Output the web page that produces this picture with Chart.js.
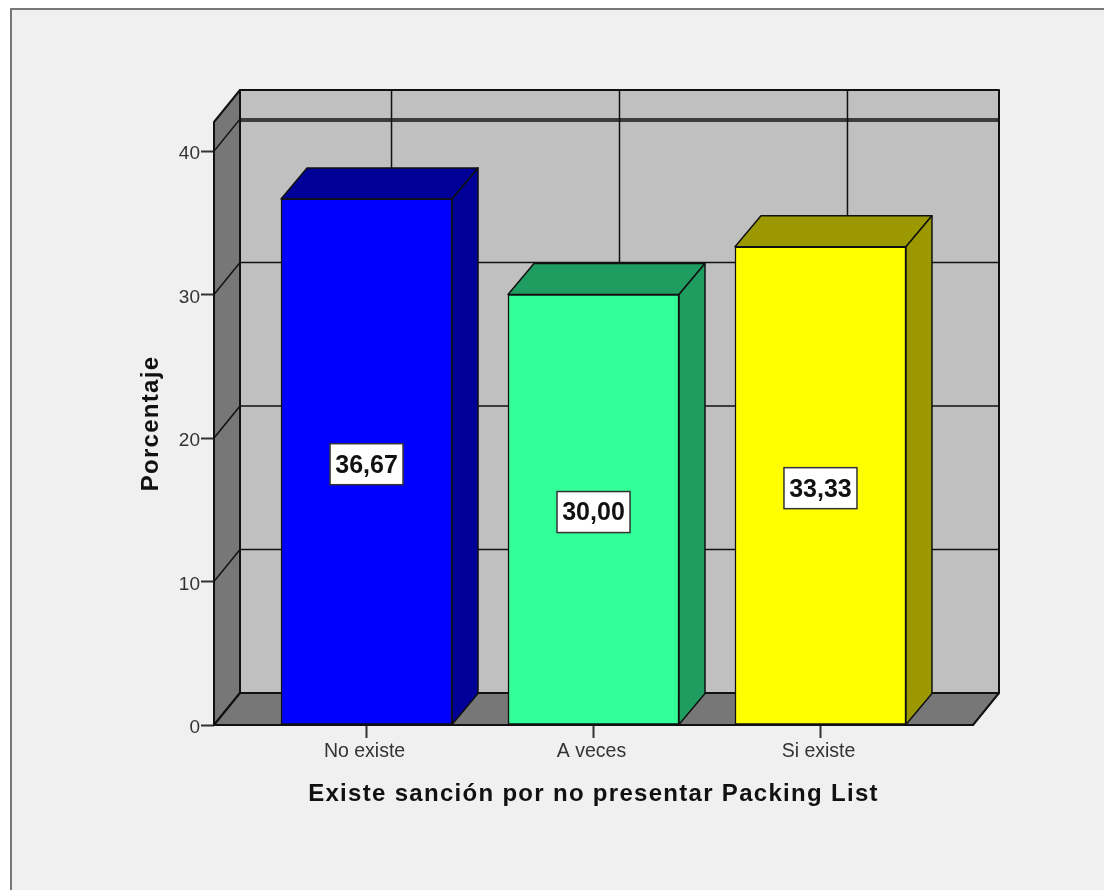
<!DOCTYPE html>
<html>
<head>
<meta charset="utf-8">
<title>Existe sanción por no presentar Packing List</title>
<script src="https://cdn.jsdelivr.net/npm/chart.js@4"></script>
<style>
  html, body { margin: 0; padding: 0; background: #fff; overflow: hidden; }
  #frame { position: absolute; left: 10px; top: 8px; width: 1094px; height: 882px; box-sizing: border-box;
           border-left: 2px solid #777; border-top: 2px solid #777; background: #f0f0f0; }
  #chart { position: absolute; left: 0; top: 0; }
</style>
</head>
<body>
<div id="frame"></div>
<canvas id="chart" width="1104" height="890"></canvas>
<script>
// Data
const categories = ['No existe', 'A veces', 'Si existe'];
const percentages = [36.67, 30.00, 33.33];
const frontColors = ['#0000ff', '#33ff99', '#ffff00'];
const sideColors = ['#000099', '#1f9c60', '#9c9900'];
const xAxisTitle = 'Existe sanción por no presentar Packing List';
const yAxisTitle = 'Porcentaje';

// Depth of the fake 3D box, in pixels
const DEPTH_X = 26;
const DEPTH_Y = 32;
const BAR_DEPTH_Y = 31;
const LINE_COLOR = '#111';
const FONT = '"Liberation Sans", Arial, sans-serif';

function poly(ctx, pts, fill) {
  ctx.beginPath();
  pts.forEach((p, i) => i ? ctx.lineTo(p[0], p[1]) : ctx.moveTo(p[0], p[1]));
  ctx.closePath();
  if (fill) {
    ctx.fillStyle = fill;
    ctx.fill();
  }
  ctx.stroke();
}

function line(ctx, x1, y1, x2, y2) {
  ctx.beginPath();
  ctx.moveTo(x1, y1);
  ctx.lineTo(x2, y2);
  ctx.stroke();
}

// Axis titles in the reference are spaced out a little
function spaceTitle(scale, ctx) {
  const drawTitle = scale.drawTitle;
  scale.drawTitle = function () {
    ctx.letterSpacing = '1.3px';
    drawTitle.call(scale);
    ctx.letterSpacing = '0px';
  };
}

// Walls, floor, grid lines and the side and top faces of the bars
const box3d = {
  id: 'box3d',
  beforeDraw(chart) {
    spaceTitle(chart.scales.x, chart.ctx);
    spaceTitle(chart.scales.y, chart.ctx);
  },
  beforeDatasetsDraw(chart) {
    const { ctx, chartArea: a, scales } = chart;
    const dx = DEPTH_X, dy = DEPTH_Y;
    ctx.save();
    ctx.strokeStyle = LINE_COLOR;
    ctx.lineWidth = 2;
    ctx.lineJoin = 'round';

    poly(ctx, [[a.left + dx, a.top - dy], [a.right + dx, a.top - dy], [a.right + dx, a.bottom - dy], [a.left + dx, a.bottom - dy]], '#c0c0c0');
    poly(ctx, [[a.left, a.top], [a.left + dx, a.top - dy], [a.left + dx, a.bottom - dy], [a.left, a.bottom]], '#777777');
    poly(ctx, [[a.left, a.bottom], [a.left + dx, a.bottom - dy], [a.right + dx, a.bottom - dy], [a.right, a.bottom]], '#777777');

    // horizontal grid runs along the left wall and the back wall
    ctx.lineWidth = 1.5;
    scales.y.ticks.forEach(t => {
      if (t.value === 0) return;
      const y = scales.y.getPixelForValue(t.value);
      line(ctx, a.left, y, a.left + dx, y - dy);
      line(ctx, a.left + dx, y - dy, a.right + dx, y - dy);
    });
    line(ctx, a.left + dx, a.top - dy + 31, a.right + dx, a.top - dy + 31);
    // back wall lines sit a pixel further apart than the bars
    scales.x.ticks.forEach((t, i) => {
      const x = scales.x.getPixelForValue(t.value) + dx - 1 + i;
      line(ctx, x, a.top - dy, x, a.bottom - dy);
    });

    // bar depth faces
    chart.getDatasetMeta(0).data.forEach((bar, i) => {
      const l = bar.x - bar.width / 2, r = bar.x + bar.width / 2;
      const bdy = BAR_DEPTH_Y;
      poly(ctx, [[l, bar.y], [l + dx, bar.y - bdy], [r + dx, bar.y - bdy], [r, bar.y]], sideColors[i]);
      poly(ctx, [[r, bar.y], [r + dx, bar.y - bdy], [r + dx, bar.base - bdy], [r, bar.base]], sideColors[i]);
    });
    ctx.restore();
  },
  afterDatasetsDraw(chart) {
    // white value boxes in the middle of each bar
    const { ctx } = chart;
    ctx.save();
    ctx.font = 'bold 25px ' + FONT;
    ctx.textAlign = 'center';
    ctx.textBaseline = 'middle';
    chart.getDatasetMeta(0).data.forEach((bar, i) => {
      const text = percentages[i].toFixed(2).replace('.', ',');
      const w = 73;
      const cy = (bar.y + bar.base) / 2 + 2;
      ctx.fillStyle = '#fff';
      ctx.strokeStyle = '#333';
      ctx.lineWidth = 1.5;
      ctx.fillRect(bar.x - w / 2, cy - 20, w, 41);
      ctx.strokeRect(bar.x - w / 2, cy - 20, w, 41);
      ctx.fillStyle = '#111';
      ctx.fillText(text, bar.x, cy + 2);
    });
    ctx.restore();
  }
};

new Chart(document.getElementById('chart').getContext('2d'), {
  type: 'bar',
  data: {
    datasets: [{
      data: percentages.map((v, i) => ({ x: i + 1, y: v })),
      backgroundColor: frontColors,
      borderColor: LINE_COLOR,
      borderWidth: 1.5,
      borderSkipped: false,
      barThickness: 171
    }]
  },
  options: {
    responsive: false,
    animation: false,
    layout: { padding: { left: 137, top: 122, right: 131, bottom: 81 } },
    plugins: { legend: { display: false }, tooltip: { enabled: false } },
    scales: {
      x: {
        type: 'linear',
        offset: false,
        min: 0.328,
        max: 3.672,
        afterFit: s => { s.height = 84; },
        grid: { offset: false, drawOnChartArea: false, tickLength: 13, tickColor: '#333', tickWidth: 2 },
        border: { display: false },
        ticks: {
          stepSize: 1,
          includeBounds: false,
          maxRotation: 0,
          padding: 2,
          labelOffset: -2,
          color: '#333',
          font: { family: FONT, size: 19.5 },
          callback: v => categories[v - 1]
        },
        title: {
          display: true,
          text: xAxisTitle,
          color: '#111',
          padding: 0,
          font: { family: FONT, size: 24, weight: 'bold' }
        }
      },
      y: {
        min: 0,
        max: 42.03,
        afterFit: s => { s.width = 77; },
        grid: { drawOnChartArea: false, tickLength: 13, tickColor: '#333', tickWidth: 2 },
        border: { display: false },
        ticks: {
          stepSize: 10,
          includeBounds: false,
          padding: 1,
          labelOffset: 3,
          color: '#333',
          font: { family: FONT, size: 19 }
        },
        title: {
          display: true,
          text: yAxisTitle,
          color: '#111',
          padding: 0,
          font: { family: FONT, size: 24, weight: 'bold' }
        }
      }
    }
  },
  plugins: [box3d]
});
</script>
</body>
</html>
